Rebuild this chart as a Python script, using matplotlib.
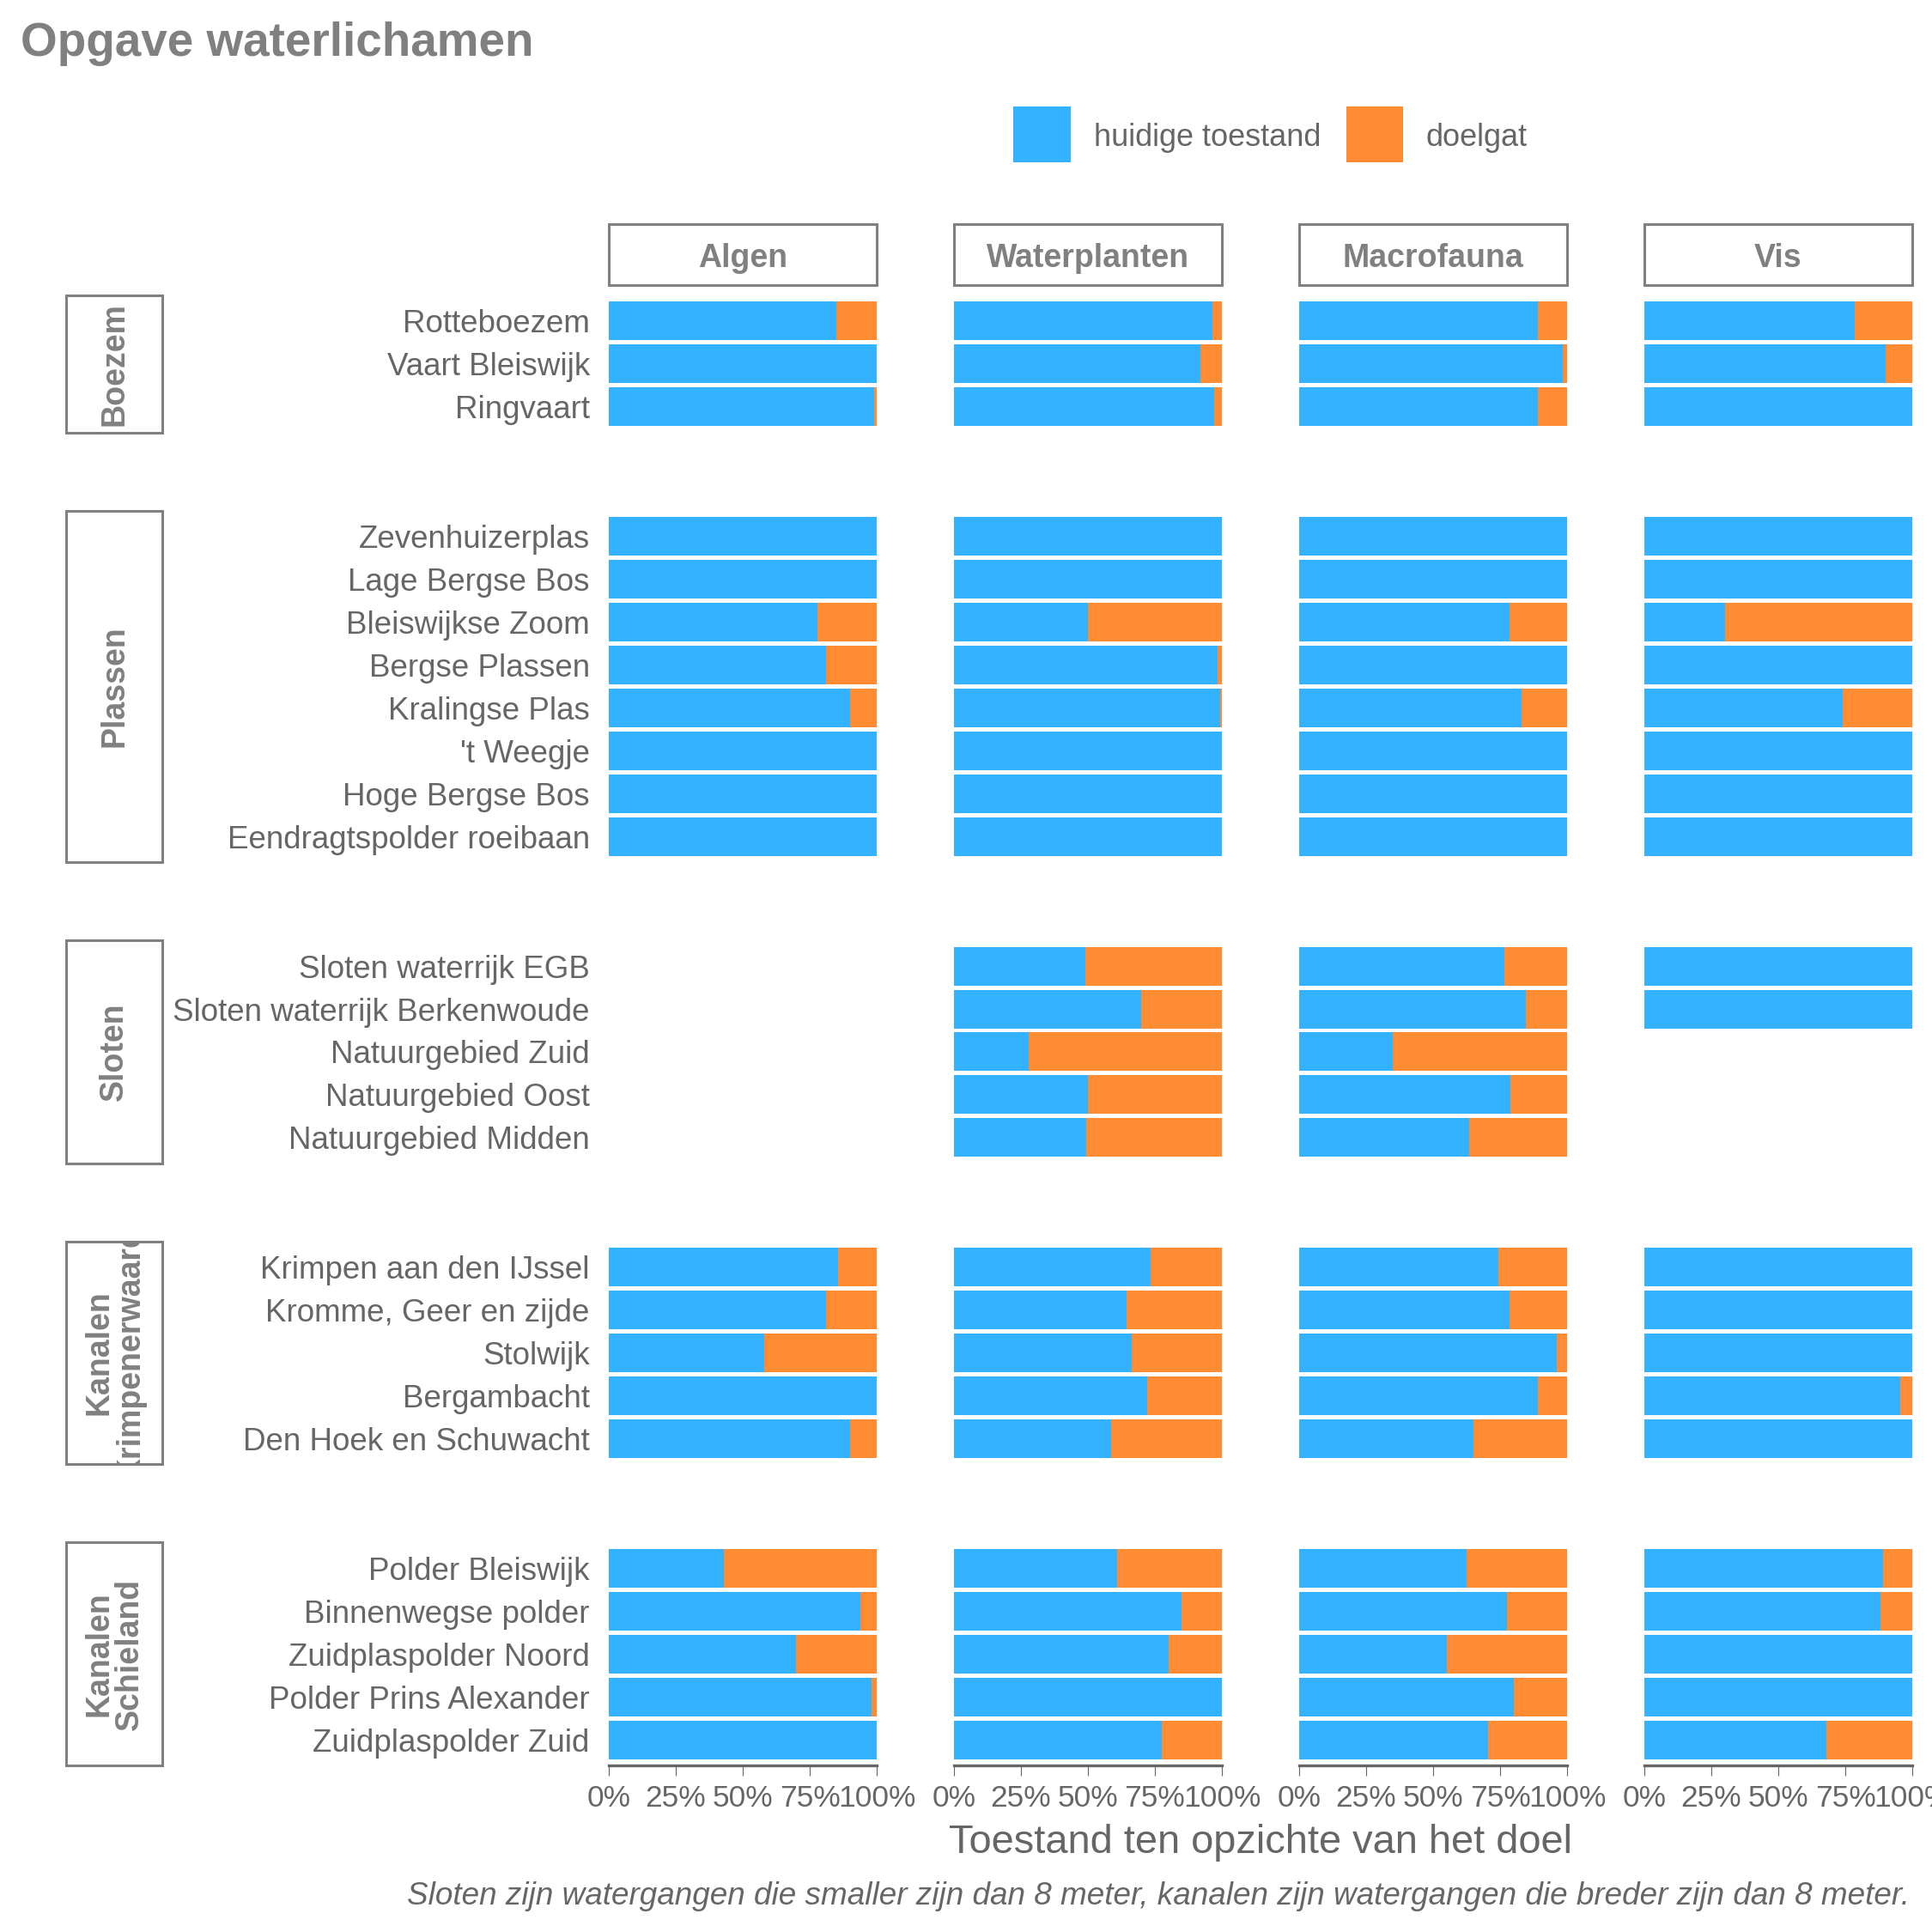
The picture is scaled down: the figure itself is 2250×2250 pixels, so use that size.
import numpy as np
import matplotlib
matplotlib.use("Agg")
import matplotlib.pyplot as plt
from matplotlib.patches import Rectangle

plt.rcParams['font.family'] = ['Liberation Sans', 'DejaVu Sans']

nan = np.nan

# data: share of the goal reached ("huidige toestand"); doelgat = rest up to 100%
groups = ["Boezem", "Plassen", "Sloten", "Kanalen\nKrimpenerwaard", "Kanalen\nSchieland"]
waterlichamen = [
    ["Rotteboezem", "Vaart Bleiswijk", "Ringvaart"],
    ["Zevenhuizerplas", "Lage Bergse Bos", "Bleiswijkse Zoom", "Bergse Plassen",
     "Kralingse Plas", "'t Weegje", "Hoge Bergse Bos", "Eendragtspolder roeibaan"],
    ["Sloten waterrijk EGB", "Sloten waterrijk Berkenwoude", "Natuurgebied Zuid",
     "Natuurgebied Oost", "Natuurgebied Midden"],
    ["Krimpen aan den IJssel", "Kromme, Geer en zijde", "Stolwijk", "Bergambacht",
     "Den Hoek en Schuwacht"],
    ["Polder Bleiswijk", "Binnenwegse polder", "Zuidplaspolder Noord",
     "Polder Prins Alexander", "Zuidplaspolder Zuid"],
]
indicators = ["Algen", "Waterplanten", "Macrofauna", "Vis"]

algen = [0.85, 1.0, 0.99,
         1.0, 1.0, 0.78, 0.81, 0.90, 1.0, 1.0, 1.0,
         nan, nan, nan, nan, nan,
         0.855, 0.81, 0.58, 1.0, 0.90,
         0.43, 0.94, 0.70, 0.98, 1.0]
waterplanten = [0.965, 0.92, 0.97,
                1.0, 1.0, 0.50, 0.985, 0.995, 1.0, 1.0, 1.0,
                0.49, 0.70, 0.28, 0.50, 0.495,
                0.735, 0.645, 0.665, 0.72, 0.585,
                0.61, 0.85, 0.80, 1.0, 0.775]
macrofauna = [0.89, 0.985, 0.89,
              1.0, 1.0, 0.785, 1.0, 0.83, 1.0, 1.0, 1.0,
              0.765, 0.845, 0.35, 0.79, 0.635,
              0.745, 0.785, 0.96, 0.89, 0.65,
              0.625, 0.775, 0.55, 0.80, 0.705]
vis = [0.785, 0.90, 1.0,
       1.0, 1.0, 0.30, 1.0, 0.74, 1.0, 1.0, 1.0,
       1.0, 1.0, nan, nan, nan,
       1.0, 1.0, 1.0, 0.955, 1.0,
       0.89, 0.88, 1.0, 1.0, 0.68]

BLUE = "#33B2FF"
ORANGE = "#FF8B33"
GREY = "#808080"
TXT = "#666666"

W = H = 2250
fig = plt.figure(figsize=(22.5, 22.5), dpi=100)


def px_rect(x0, y0, x1, y1):
    return [x0 / W, 1 - y1 / H, (x1 - x0) / W, (y1 - y0) / H]


# layout in pixels
col_x = [709, 1111, 1513, 1915]
col_w = 312
top, bottom, gap = 344, 2056, 91
units = [len(n) + 0.2 for n in waterlichamen]
unit = (bottom - top - gap * (len(groups) - 1)) / sum(units)

values = [algen, waterplanten, macrofauna, vis]
start = 0
y0 = top
for g, names in enumerate(waterlichamen):
    n = len(names)
    y1 = y0 + units[g] * unit
    for c in range(4):
        ax = fig.add_axes(px_rect(col_x[c], y0, col_x[c] + col_w, y1))
        v = np.array(values[c][start:start + n], dtype=float)
        pos = np.arange(n)
        ok = ~np.isnan(v)
        ax.barh(pos[ok], v[ok], height=0.9, color=BLUE, linewidth=0)
        ax.barh(pos[ok], 1 - v[ok], left=v[ok], height=0.9, color=ORANGE, linewidth=0)
        ax.set_xlim(0, 1)
        ax.set_ylim(n - 0.4, -0.6)
        for s in ["top", "right", "left"]:
            ax.spines[s].set_visible(False)
        if c == 0:
            ax.set_yticks(pos)
            ax.set_yticklabels(names)
            ax.tick_params(axis="y", length=0, pad=16, labelsize=26.5, labelcolor=TXT)
        else:
            ax.set_yticks([])
        if g == len(groups) - 1:
            ax.spines["bottom"].set_color(TXT)
            ax.spines["bottom"].set_linewidth(2.4)
            ax.set_xticks([0, 0.25, 0.5, 0.75, 1])
            ax.set_xticklabels(["0%", "25%", "50%", "75%", "100%"])
            ax.tick_params(axis="x", length=8.5, width=0.8, color=TXT, pad=7,
                           labelsize=25.5, labelcolor=TXT)
        else:
            ax.spines["bottom"].set_visible(False)
            ax.set_xticks([])
    # row strip on the left
    rect = Rectangle((77 / W, 1 - y1 / H), (189 - 77) / W, (y1 - y0) / H,
                     transform=fig.transFigure, facecolor="white", edgecolor=GREY,
                     linewidth=2.2)
    fig.add_artist(rect)
    t = fig.text(133 / W, 1 - (y0 + y1) / 2 / H, groups[g], rotation=90,
                 ha="center", va="center", fontsize=27, fontweight="bold",
                 color=GREY, linespacing=1.0, multialignment="center")
    t.set_clip_path(rect)
    start += n
    y0 = y1 + gap

# top strips
for c in range(4):
    fig.add_artist(Rectangle((col_x[c] / W, 1 - 332 / H), col_w / W, (332 - 261) / H,
                             transform=fig.transFigure, facecolor="white",
                             edgecolor=GREY, linewidth=2.2))
    fig.text((col_x[c] + col_w / 2) / W, 1 - 301 / H, indicators[c], ha="center",
             va="center", fontsize=27, fontweight="bold", color=GREY)

# legend
fig.add_artist(Rectangle((1180 / W, 1 - 189 / H), 67 / W, 65 / H,
                         transform=fig.transFigure, facecolor=BLUE, linewidth=0))
fig.text(1274 / W, 1 - 161 / H, "huidige toestand", ha="left", va="center",
         fontsize=26, color=TXT)
fig.add_artist(Rectangle((1568 / W, 1 - 189 / H), 66 / W, 65 / H,
                         transform=fig.transFigure, facecolor=ORANGE, linewidth=0))
fig.text(1661 / W, 1 - 161 / H, "doelgat", ha="left", va="center",
         fontsize=26, color=TXT)

# titles
fig.text(24 / W, 1 - 65 / H, "Opgave waterlichamen", ha="left", va="baseline",
         fontsize=39.5, fontweight="bold", color=GREY)
fig.text((col_x[0] + col_x[3] + col_w) / 2 / W, 1 - 2146 / H,
         "Toestand ten opzichte van het doel", ha="center", va="center",
         fontsize=33.8, color=TXT)
fig.text(2224 / W, 1 - 2208 / H,
         "Sloten zijn watergangen die smaller zijn dan 8 meter, kanalen zijn "
         "watergangen die breder zijn dan 8 meter.",
         ha="right", va="center", fontsize=26.6, style="italic", color=TXT)

fig.savefig("out.png", dpi=100, facecolor="white")
